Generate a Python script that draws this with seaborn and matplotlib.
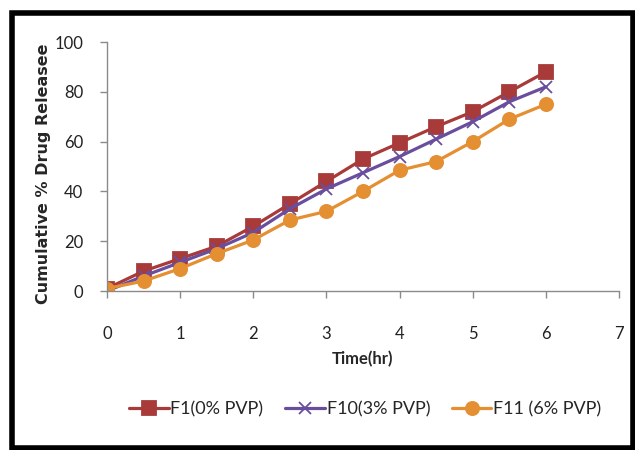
import pandas as pd
import matplotlib.pyplot as plt
import seaborn as sns
from matplotlib.patches import Rectangle
from matplotlib.lines import Line2D

# release data
time_hr = [0, 0.5, 1, 1.5, 2, 2.5, 3, 3.5, 4, 4.5, 5, 5.5, 6]
f1_release = [1, 8, 13, 18, 26, 35, 44, 53, 59.5, 66, 72, 80, 88]
f10_release = [0, 6, 11.5, 17, 23.5, 33, 41, 47.5, 54, 61, 68, 76, 82]
f11_release = [1, 4, 9, 15, 20.5, 28.5, 32, 40, 48.5, 52, 60, 69, 75]
series_names = ['F1(0% PVP)', 'F10(3% PVP)', 'F11 (6% PVP)']
x_ticks = [0, 1, 2, 3, 4, 5, 6, 7]
y_ticks = [0, 20, 40, 60, 80, 100]

colors = {'F1(0% PVP)': '#A83A3A', 'F10(3% PVP)': '#6A4E9E', 'F11 (6% PVP)': '#E58F33'}
markers = {'F1(0% PVP)': 's', 'F10(3% PVP)': 'x', 'F11 (6% PVP)': 'o'}
msizes = {'F1(0% PVP)': 10, 'F10(3% PVP)': 9, 'F11 (6% PVP)': 9.5}

df = pd.concat([
    pd.DataFrame({'Time': time_hr, 'Release': vals, 'Formulation': name})
    for name, vals in zip(series_names, [f1_release, f10_release, f11_release])
])

sns.set_theme(style='white')
narrow = ['Lato', 'DejaVu Sans']
plt.rcParams['font.family'] = narrow

fig = plt.figure(figsize=(6.35, 4.5), dpi=100)
ax = fig.add_axes([0.1685, 0.3533, 0.8063, 0.5533])

for name in series_names:
    sub = df[df['Formulation'] == name]
    sns.lineplot(data=sub, x='Time', y='Release', ax=ax, color=colors[name],
                 marker=markers[name], markersize=msizes[name], linewidth=2.3,
                 markeredgecolor=colors[name], markeredgewidth=1.3, legend=False)

ax.set_xlim(0, 7)
ax.set_ylim(0, 100)
ax.set_xticks(x_ticks)
ax.set_yticks(y_ticks)
ax.tick_params(axis='x', direction='out', length=5, width=1, color='#8A8A8A',
               pad=20, labelsize=12, labelcolor='#222222')
ax.tick_params(axis='y', direction='out', length=5, width=1, color='#8A8A8A',
               pad=12, labelsize=12, labelcolor='#222222')
ax.tick_params(bottom=True, left=True)
for side in ['top', 'right']:
    ax.spines[side].set_visible(False)
for side in ['left', 'bottom']:
    ax.spines[side].set_color('#8A8A8A')
    ax.spines[side].set_linewidth(1)

ax.set_xlabel('Time(hr)', fontsize=12, fontweight='bold', labelpad=7)
ax.set_ylabel('Cumulative % Drug Releasee', fontsize=11.5, fontweight='bold',
              family=['DejaVu Sans'])
ax.yaxis.set_label_coords(-0.11, 0.47)

handles = [Line2D([0], [0], color=colors[n], lw=2.3, marker=markers[n],
                  markersize=msizes[n], markeredgecolor=colors[n], markeredgewidth=1.3)
           for n in series_names]
fig.legend(handles, series_names, loc='center', bbox_to_anchor=(0.575, 0.09),
           ncol=3, frameon=False, handlelength=2.2,
           handletextpad=0.1, columnspacing=1.2, prop={'family': narrow, 'size': 13})

fig.patches.append(Rectangle((12 / 635, 2 / 450), 621 / 635, 435 / 450,
                             transform=fig.transFigure, fill=False,
                             edgecolor='black', linewidth=4))

fig.savefig('out.png', dpi=100)
plt.close(fig)
